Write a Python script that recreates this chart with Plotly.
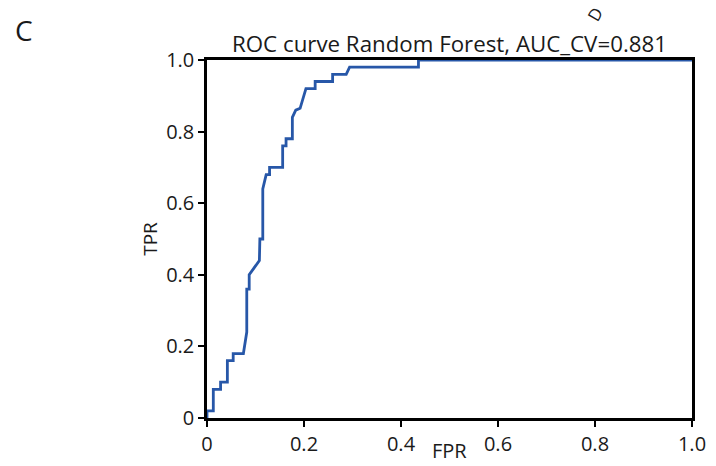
import plotly.graph_objects as go

# ROC curve points (false positive rate, true positive rate)
fpr = [0.0, 0.0, 0.013, 0.013, 0.028, 0.028, 0.042, 0.042, 0.054, 0.054,
       0.075, 0.077, 0.082, 0.082, 0.087, 0.087, 0.108, 0.109, 0.115, 0.115,
       0.122, 0.129, 0.129, 0.156, 0.156, 0.163, 0.163, 0.176, 0.176, 0.183,
       0.192, 0.204, 0.223, 0.223, 0.259, 0.259, 0.287, 0.294, 0.436, 0.436, 1.0]
tpr = [0.0, 0.02, 0.02, 0.08, 0.08, 0.10, 0.10, 0.16, 0.16, 0.18,
       0.18, 0.20, 0.24, 0.36, 0.36, 0.40, 0.44, 0.50, 0.50, 0.64,
       0.68, 0.68, 0.70, 0.70, 0.76, 0.76, 0.78, 0.78, 0.84, 0.86,
       0.865, 0.92, 0.92, 0.94, 0.94, 0.96, 0.96, 0.98, 0.98, 1.0, 1.0]

tick_vals = [0, 0.2, 0.4, 0.6, 0.8, 1.0]
tick_text = ["0", "0.2", "0.4", "0.6", "0.8", "1.0"]

FONT = "Open Sans, Lato, sans-serif"
INK = "#1a1a1a"

fig = go.Figure()
fig.add_trace(go.Scatter(
    x=fpr, y=tpr, mode="lines",
    line=dict(color="#2757a8", width=2.8),
    hoverinfo="skip", showlegend=False,
))

axis_common = dict(
    range=[0, 1], tickvals=tick_vals, ticktext=tick_text,
    showline=True, linecolor="black", linewidth=2.5, mirror=True,
    ticks="outside", ticklen=6, tickwidth=1.5, tickcolor="black",
    showgrid=False, zeroline=False, automargin=False,
    tickfont=dict(family=FONT, size=20, color=INK),
)

fig.update_layout(
    width=716, height=466,
    margin=dict(l=207, r=24, t=60, b=48),
    paper_bgcolor="white", plot_bgcolor="white",
    xaxis=dict(**axis_common),
    yaxis=dict(**axis_common),
    title=dict(text="ROC curve Random Forest, AUC_CV=0.881",
               font=dict(family=FONT, size=22.3, color=INK),
               x=0.5, xref="paper", xanchor="center",
               y=0.905, yanchor="middle"),
)

# axis titles
fig.add_annotation(text="FPR", x=0.5, y=-0.09, xref="paper", yref="paper",
                   xanchor="center", yanchor="middle", showarrow=False,
                   font=dict(family=FONT, size=20, color=INK))
fig.add_annotation(text="TPR", x=-0.118, y=0.5, xref="paper", yref="paper",
                   xanchor="center", yanchor="middle", textangle=-90,
                   showarrow=False, font=dict(family=FONT, size=19, color=INK))

# panel letters
fig.add_annotation(text="C", x=-0.40, y=1.084, xref="paper", yref="paper",
                   xanchor="left", yanchor="middle", showarrow=False,
                   font=dict(family=FONT, size=28, color=INK))
fig.add_annotation(text="D", x=0.832, y=1.165, xref="paper", yref="paper",
                   textangle=-60, showarrow=False,
                   font=dict(family=FONT, size=17, color=INK))

fig.write_html("out.html")
